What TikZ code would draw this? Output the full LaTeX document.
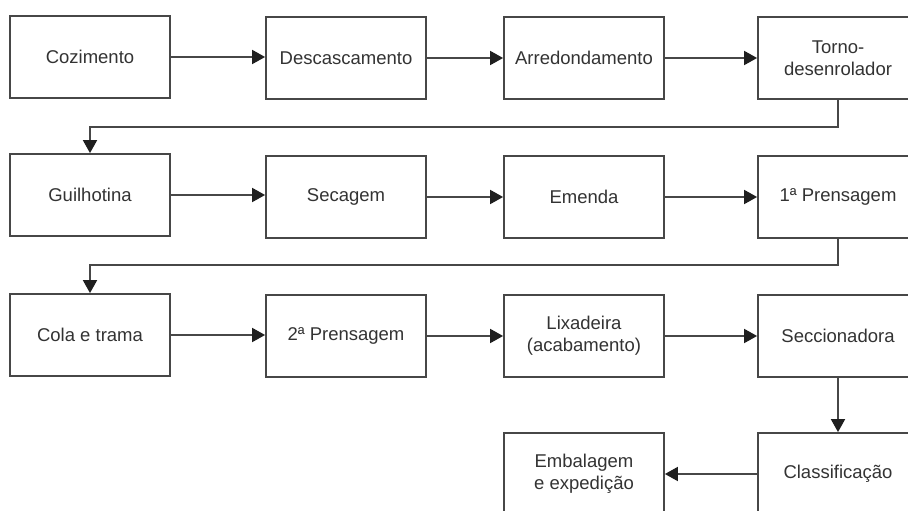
\documentclass[tikz,border=0pt]{standalone}
\usepackage{fontspec}
\setmainfont{Liberation Sans}
\usetikzlibrary{arrows.meta}
\definecolor{inkline}{HTML}{474747}
\definecolor{inktext}{HTML}{333333}
\begin{document}
\begin{tikzpicture}[x=1pt,y=-1pt,
  stepbox/.style={draw=inkline,line width=1.8pt,fill=white,rectangle,
    minimum width=160pt,minimum height=82pt,inner sep=0pt,align=center,
    text=inktext,font=\fontsize{18.5}{21.8}\selectfont},
  flow/.style={draw=inkline,line width=1.8pt,
    -{Triangle[length=13pt,width=14pt,fill=black!88,color=black!88]}}]
\useasboundingbox (0,0) rectangle (908,511);
\clip (0,0) rectangle (908,511);
\fill[white] (0,0) rectangle (908,511);
% column centres: 90, 346, 584, 838 ; row centres: 57, 196, 335, 474
\node[stepbox] (coz) at (90,57) {Cozimento};
\node[stepbox] (desc) at (346,58) {Descascamento};
\node[stepbox] (arre) at (584,58) {Arredondamento};
\node[stepbox] (torno) at (838,58) {Torno-\\desenrolador};
\node[stepbox] (guil) at (90,195) {Guilhotina};
\node[stepbox] (seca) at (346,197) {Secagem};
\node[stepbox] (emen) at (584,197) {Emenda};
\node[stepbox] (pren1) at (838,197) {1ª Prensagem};
\node[stepbox] (cola) at (90,335) {Cola e trama};
\node[stepbox] (pren2) at (346,336) {2ª Prensagem};
\node[stepbox] (lixa) at (584,336) {Lixadeira\\(acabamento)};
\node[stepbox] (secc) at (838,336) {Seccionadora};
\node[stepbox] (emba) at (584,474) {Embalagem\\e expedição};
\node[stepbox] (clas) at (838,474) {Classificação};
% row connectors
\draw[flow] (coz.east) -- (coz.east -| desc.west);
\draw[flow] (desc.east |- arre.west) -- (arre.west);
\draw[flow] (arre.east) -- (torno.west);
\draw[flow] (guil.east) -- (guil.east -| seca.west);
\draw[flow] (seca.east |- emen.west) -- (emen.west);
\draw[flow] (emen.east) -- (pren1.west);
\draw[flow] (cola.east) -- (cola.east -| pren2.west);
\draw[flow] (pren2.east |- lixa.west) -- (lixa.west);
\draw[flow] (lixa.east) -- (secc.west);
% returns to the next row
\coordinate (r1) at (838,127);
\coordinate (r2) at (838,265);
\draw[flow] (torno.south) -- (r1) -| (guil.north);
\draw[flow] (pren1.south) -- (r2) -| (cola.north);
\draw[flow] (secc.south) -- (clas.north);
\draw[flow] (clas.west) -- (emba.east);
\end{tikzpicture}
\end{document}
